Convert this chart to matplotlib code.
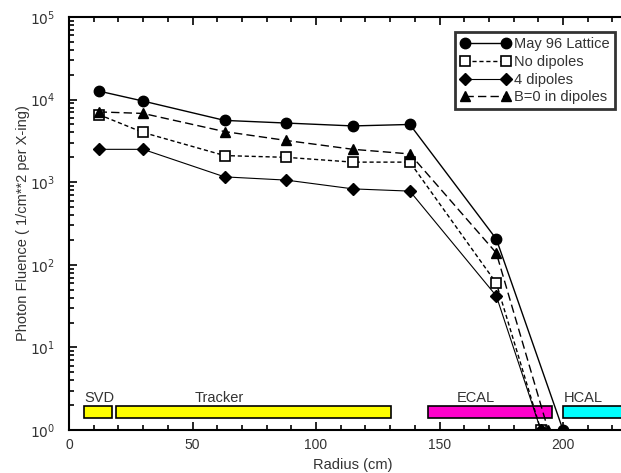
import math
import matplotlib
matplotlib.use("Agg")
import matplotlib.pyplot as plt
from matplotlib.ticker import LogLocator, MultipleLocator, FuncFormatter
from matplotlib.patches import Rectangle

plt.rcParams['font.family'] = ['Liberation Sans', 'DejaVu Sans']

# radius (cm) of the simulated points
radius = [12, 30, 63, 88, 115, 138, 173]

may96 = [1.27e4, 9.6e3, 5.6e3, 5.2e3, 4.8e3, 5.0e3, 205]
no_dipoles = [6.6e3, 4.0e3, 2.1e3, 2.0e3, 1.75e3, 1.75e3, 60]
four_dipoles = [2.5e3, 2.5e3, 1.16e3, 1.06e3, 830, 780, 42]
b0_dipoles = [7.1e3, 6.8e3, 4.1e3, 3.2e3, 2.5e3, 2.2e3, 139]

# last points where the curves leave the plot at the bottom
end_r = {'may96': 200, 'no': 191, 'four': 191, 'b0': 194}
end_val = 1.0

# detector regions: name, r_min, r_max, colour
detectors = ['SVD', 'Tracker', 'ECAL', 'HCAL']
det_rmin = [6, 19, 145.3, 200.2]
det_rmax = [17.4, 130.4, 195.5, 240]
det_color = ['#ffff00', '#ffff00', '#ff00cc', '#00ffff']
det_label_x = [12.5, 61, 164.5, 200.5]

txt = '#333333'

fig = plt.figure(figsize=(6.21, 4.73), dpi=100)
ax = fig.add_axes([69 / 621, 43 / 473, 230 * 2.47 / 621, 413 / 473])

ax.plot(radius + [end_r['may96']], may96 + [end_val], '-', color='black',
        lw=1.0, marker='o', ms=7.5, label='May 96 Lattice')
ax.plot(radius + [end_r['no']], no_dipoles + [end_val], '--', color='black',
        lw=1.0, dashes=(3, 2), marker='s', ms=6.5, mfc='white', mew=1.2,
        label='No dipoles')
ax.plot(radius + [end_r['four']], four_dipoles + [end_val], '-', color='black',
        lw=0.8, marker='D', ms=6, label='4 dipoles')
ax.plot(radius + [end_r['b0']], b0_dipoles + [end_val], '--', color='black',
        lw=1.0, dashes=(6, 3), marker='^', ms=7.5, label='B=0 in dipoles')

for name, r0, r1, c, lx in zip(detectors, det_rmin, det_rmax, det_color, det_label_x):
    ax.add_patch(Rectangle((r0, 1.4), r1 - r0, 1.95 - 1.4, facecolor=c,
                           edgecolor='black', lw=1.2, zorder=1))
    ha = 'left' if name == 'HCAL' else 'center'
    ax.text(lx, 1.98, name, ha=ha, va='bottom', fontsize=10.5, color=txt)

ax.set_yscale('log')
ax.set_xlim(0, 230)
ax.set_ylim(1, 1e5)

ax.xaxis.set_major_locator(MultipleLocator(50))
ax.xaxis.set_minor_locator(MultipleLocator(10))
ax.yaxis.set_major_locator(LogLocator(base=10, numticks=10))
ax.yaxis.set_minor_locator(LogLocator(base=10, subs=range(2, 10), numticks=10))
ax.yaxis.set_major_formatter(FuncFormatter(lambda v, p: r'$10^{%d}$' % round(math.log10(v))))

ax.tick_params(which='both', direction='in', top=True, right=False,
               labelsize=10, width=1.2, labelcolor=txt)
ax.tick_params(axis='y', which='major', pad=10)
ax.tick_params(axis='x', which='major', pad=6)
ax.tick_params(which='major', length=6)
ax.tick_params(which='minor', length=3.5)
for s in ax.spines.values():
    s.set_linewidth(1.5)

ax.set_xlabel('Radius (cm)', fontsize=10.5, labelpad=4, color=txt)
ax.set_ylabel('Photon Fluence ( 1/cm**2 per X-ing)', fontsize=10.5, labelpad=0, color=txt)

leg = ax.legend(loc='upper left', bbox_to_anchor=(0.68, 0.963), numpoints=2,
                fontsize=10.5, frameon=True, fancybox=False, handlelength=3.4,
                handletextpad=0.3, borderpad=0.35, labelspacing=0.25,
                borderaxespad=0)
leg.get_frame().set_edgecolor('black')
leg.get_frame().set_linewidth(2.0)
for t in leg.get_texts():
    t.set_color(txt)

fig.savefig('out.png', dpi=100)
